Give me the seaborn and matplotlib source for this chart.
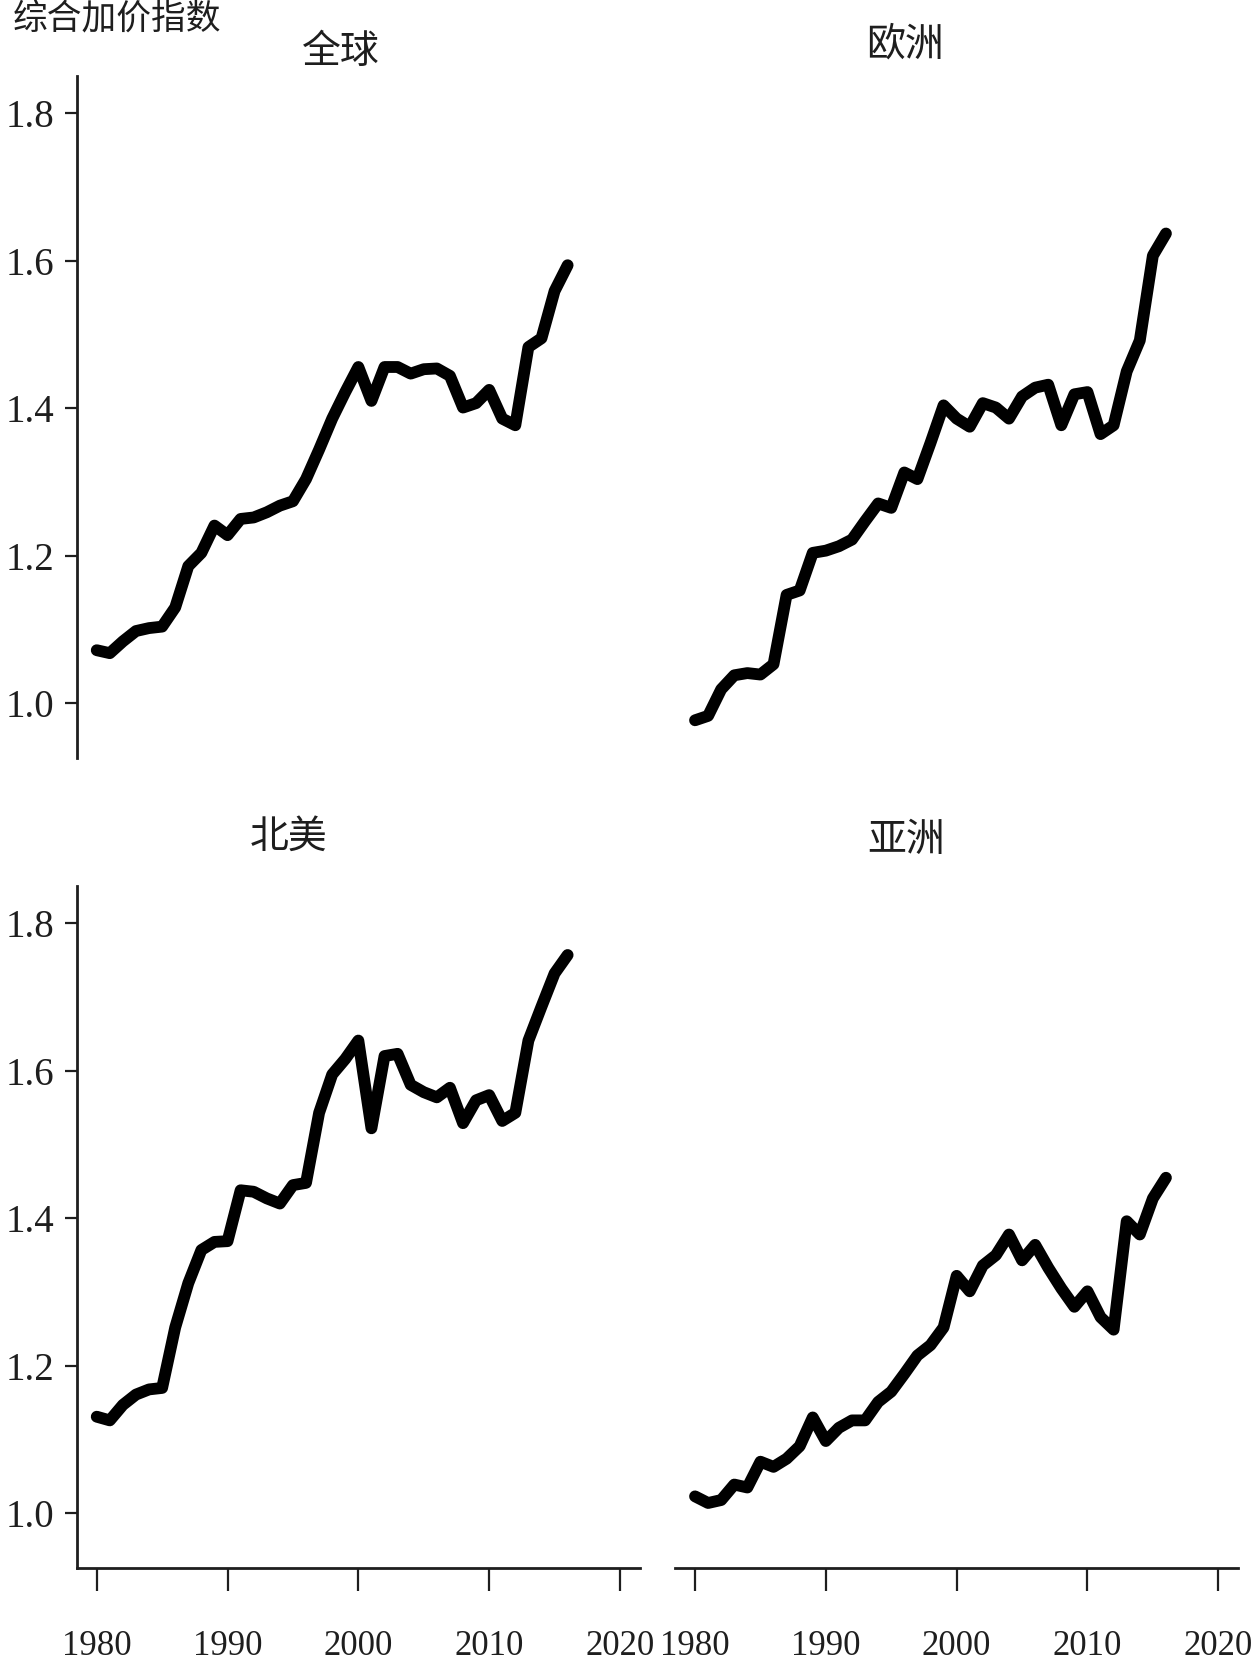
import numpy as np
import pandas as pd
import matplotlib
matplotlib.use("Agg")
import matplotlib.pyplot as plt
import seaborn as sns

# ---------------- data ----------------
years = list(range(1980, 2017))
global_vals = [1.072, 1.068, 1.084, 1.098, 1.102, 1.104, 1.130, 1.186, 1.204, 1.241,
               1.228, 1.250, 1.252, 1.259, 1.268, 1.274, 1.304, 1.344, 1.386, 1.422,
               1.456, 1.410, 1.456, 1.456, 1.447, 1.453, 1.454, 1.444, 1.401, 1.407,
               1.425, 1.386, 1.377, 1.483, 1.495, 1.559, 1.594]
europe_vals = [0.977, 0.983, 1.019, 1.038, 1.041, 1.039, 1.053, 1.147, 1.153, 1.204,
               1.207, 1.213, 1.222, 1.247, 1.271, 1.265, 1.313, 1.304, 1.353, 1.404,
               1.386, 1.375, 1.407, 1.401, 1.386, 1.416, 1.428, 1.432, 1.377, 1.419,
               1.422, 1.365, 1.377, 1.450, 1.492, 1.607, 1.637]
namerica_vals = [1.131, 1.126, 1.147, 1.161, 1.168, 1.170, 1.252, 1.312, 1.357, 1.368,
                 1.369, 1.438, 1.436, 1.427, 1.420, 1.445, 1.448, 1.543, 1.595, 1.616,
                 1.641, 1.522, 1.620, 1.623, 1.581, 1.571, 1.564, 1.577, 1.529, 1.560,
                 1.567, 1.532, 1.543, 1.641, 1.687, 1.732, 1.757]
asia_vals = [1.023, 1.014, 1.018, 1.039, 1.035, 1.070, 1.063, 1.074, 1.091, 1.130,
             1.098, 1.116, 1.126, 1.126, 1.151, 1.165, 1.189, 1.214, 1.228, 1.252,
             1.322, 1.301, 1.336, 1.350, 1.378, 1.343, 1.364, 1.333, 1.305, 1.280,
             1.301, 1.266, 1.249, 1.396, 1.378, 1.427, 1.455]
regions = ["全球", "欧洲", "北美", "亚洲"]
xtick_values = [1980, 1990, 2000, 2010, 2020]
xtick_labels = ["1980", "1990", "2000", "2010", "2020"]
ytick_values = [1.0, 1.2, 1.4, 1.6, 1.8]
ytick_labels = ["1.0", "1.2", "1.4", "1.6", "1.8"]
y_title = "综合加价指数"

series = [global_vals, europe_vals, namerica_vals, asia_vals]
df = pd.DataFrame({
    "year": years * 4,
    "value": sum(series, []),
    "region": np.repeat(regions, len(years)),
})

# ---------------- style ----------------
sns.set_theme(style="white")
plt.rcParams["font.family"] = ["Liberation Serif", "Noto Sans CJK SC", "DejaVu Sans"]
CJK = ["Noto Sans CJK SC", "DejaVu Sans"]
INK = "#1e1e1e"

W, H = 1259, 1669
fig = plt.figure(figsize=(W / 100, H / 100), dpi=100)
fig.patch.set_facecolor("white")


def px_axes(x0, y0, x1, y1):
    return fig.add_axes([x0 / W, 1 - y1 / H, (x1 - x0) / W, (y1 - y0) / H])


cols_x = [(77.1, 639.6), (675.4, 1237.9)]
rows_y = [(76.4, 757.9), (886.4, 1567.9)]
title_pos = {"全球": (340.7, 51.5), "欧洲": (904.6, 45.0),
             "北美": (288.5, 836.5), "亚洲": (905.7, 840.0)}

XLIM = (1978.5, 2021.5)
YLIM = (0.926, 1.85)

for i, reg in enumerate(regions):
    r, c = divmod(i, 2)
    ax = px_axes(cols_x[c][0], rows_y[r][0], cols_x[c][1], rows_y[r][1])
    sub = df[df["region"] == reg]
    sns.lineplot(data=sub, x="year", y="value", ax=ax, color="black",
                 linewidth=8.5, solid_capstyle="round", solid_joinstyle="round",
                 legend=False)
    ax.set_xlim(*XLIM)
    ax.set_ylim(*YLIM)
    ax.set_xlabel("")
    ax.set_ylabel("")
    ax.set_facecolor("white")
    for s in ["top", "right", "left", "bottom"]:
        ax.spines[s].set_visible(False)
        ax.spines[s].set_color(INK)
        ax.spines[s].set_linewidth(2.0)

    ax.set_xticks(xtick_values)
    ax.set_xticklabels(xtick_labels)
    ax.set_yticks(ytick_values)
    ax.set_yticklabels(ytick_labels)

    if c == 0:
        ax.spines["left"].set_visible(True)
        ax.tick_params(axis="y", left=True, labelleft=True, length=8.6, width=1.6,
                       pad=7.5, labelsize=28, colors=INK, direction="out")
    else:
        ax.tick_params(axis="y", left=False, labelleft=False)

    if r == 1:
        ax.spines["bottom"].set_visible(True)
        ax.tick_params(axis="x", bottom=True, labelbottom=True, length=16.5, width=1.6,
                       pad=28, labelsize=25, colors=INK, direction="out")
    else:
        ax.tick_params(axis="x", bottom=False, labelbottom=False)

    tx, ty = title_pos[reg]
    fig.text(tx / W, 1 - ty / H, reg, ha="center", va="center",
             fontsize=28, family=CJK, fontweight="light", color=INK)

fig.text(13 / W, 1 - 2 / H, y_title, ha="left", va="top",
         fontsize=25, family=CJK, fontweight="light", color=INK)

fig.savefig("out.png", dpi=100, facecolor="white")
